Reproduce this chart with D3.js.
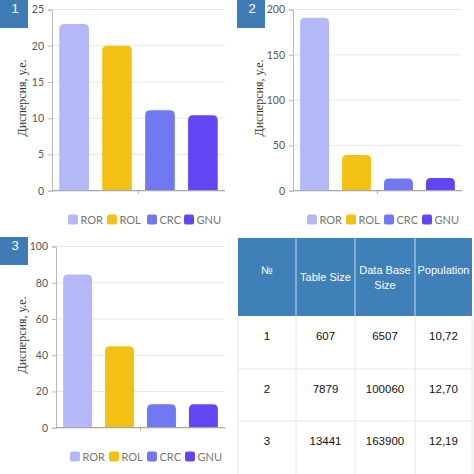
<!DOCTYPE html>
<html>
<head>
<meta charset="utf-8">
<script src="https://cdn.jsdelivr.net/npm/d3@7"></script>
<style>
html,body{margin:0;padding:0;background:#fff;}
svg{display:block;}
</style>
</head>
<body>
<svg id="chart" width="474" height="474"></svg>
<script>
// ---- data ----
const categories = ["ROR", "ROL", "CRC", "GNU"];
const colors = ["#b4b8f9", "#f3c114", "#7078f2", "#6246f4"];
const values1 = [23, 20, 11.1, 10.4];
const values2 = [191, 39.5, 13.5, 14];
const values3 = [84.5, 45, 13, 13];
const ticks1 = [0, 5, 10, 15, 20, 25];
const ticks2 = [0, 50, 100, 150, 200];
const ticks3 = [0, 20, 40, 60, 80, 100];
const yLabel = "Дисперсия, у.е.";
const tableHeaders = [["№"], ["Table Size"], ["Data Base", "Size"], ["Population"]];
const tableRows = [
  ["1", "607", "6507", "10,72"],
  ["2", "7879", "100060", "12,70"],
  ["3", "13441", "163900", "12,19"]
];

const svg = d3.select("#chart");

function topRoundedRect(x, y, w, h, r) {
  r = Math.min(r, w / 2, h);
  return `M${x},${y + h}V${y + r}Q${x},${y} ${x + r},${y}H${x + w - r}Q${x + w},${y} ${x + w},${y + r}V${y + h}Z`;
}

function drawPanel(cfg) {
  const g = svg.append("g").attr("transform", `translate(${cfg.ox},${cfg.oy})`);
  const y0 = 190.7, yT = 9.5, right = 225;
  const y = d3.scaleLinear().domain([0, d3.max(cfg.ticks)]).range([y0, yT]);
  const x = d3.scaleBand().domain(categories).range([cfg.axisX, right])
    .paddingInner(0.31).paddingOuter(0.17);

  // gridlines
  g.append("g").selectAll("line").data(cfg.ticks.filter(t => t > 0)).join("line")
    .attr("x1", cfg.axisX).attr("x2", right)
    .attr("y1", d => y(d)).attr("y2", d => y(d))
    .attr("stroke", "#e8e8e8").attr("stroke-width", 1);

  // y axis
  const ya = g.append("g").attr("transform", `translate(${cfg.axisX},0)`)
    .call(d3.axisLeft(y).tickValues(cfg.ticks).tickSize(4).tickPadding(4));
  ya.select(".domain").attr("stroke", "#b8b8b8");
  ya.selectAll(".tick line").attr("stroke", "#b8b8b8");
  ya.selectAll(".tick text").attr("fill", "#555").attr("font-family", "Lato, sans-serif").attr("font-size", 10.5);

  // bars
  g.append("g").selectAll("path").data(cfg.values).join("path")
    .attr("d", (d, i) => {
      const bx = x(categories[i]);
      return topRoundedRect(bx, y(d), x.bandwidth(), y0 - y(d), 5);
    })
    .attr("fill", (d, i) => colors[i]);

  // x axis baseline
  const xa = g.append("g");
  xa.append("line").attr("x1", cfg.axisX).attr("x2", right).attr("y1", y0).attr("y2", y0)
    .attr("stroke", "#a8a8a8").attr("stroke-width", 1.2);
  xa.append("line").attr("x1", (cfg.axisX + right) / 2).attr("x2", (cfg.axisX + right) / 2)
    .attr("y1", y0).attr("y2", y0 + 3).attr("stroke", "#a8a8a8");

  // y label
  g.append("text")
    .attr("transform", `translate(26,98) rotate(-90)`)
    .attr("text-anchor", "middle")
    .attr("font-family", "'Liberation Serif', 'Times New Roman', serif")
    .attr("font-size", 12).attr("fill", "#333")
    .text(yLabel);

  // legend
  const lg = g.append("g");
  const lx = cfg.legendX;
  categories.forEach((c, i) => {
    const gx = lx[i];
    lg.append("rect").attr("x", gx).attr("y", 214.5).attr("width", 10).attr("height", 10)
      .attr("rx", 2).attr("fill", colors[i]);
    lg.append("text").attr("x", gx + 12.5).attr("y", 223.5)
      .attr("font-family", "Lato, sans-serif").attr("font-size", 11).attr("fill", "#777")
      .text(c);
  });

  // badge
  g.append("rect").attr("x", 0).attr("y", 0).attr("width", 28).attr("height", 28).attr("fill", "#3f7cb6");
  g.append("text").attr("x", 15).attr("y", 12.5).attr("text-anchor", "middle")
    .attr("font-family", "'Liberation Sans', Arial, sans-serif").attr("font-size", 13)
    .attr("fill", "#fff").text(cfg.id);
}

drawPanel({id: 1, ox: 0, oy: 0, values: values1, ticks: ticks1, axisX: 52, legendX: [68, 107, 147, 184]});
drawPanel({id: 2, ox: 237, oy: 0, values: values2, ticks: ticks2, axisX: 56, legendX: [70, 109, 147, 185]});
drawPanel({id: 3, ox: 0, oy: 237, values: values3, ticks: ticks3, axisX: 56, legendX: [70, 109, 147, 185]});

// ---- table ----
const tg = svg.append("g");
const colX = [238, 296, 355, 415, 472];
const rowY = [238, 316, 369, 421, 474];
tg.append("rect").attr("x", colX[0]).attr("y", rowY[0]).attr("width", colX[4] - colX[0])
  .attr("height", rowY[1] - rowY[0]).attr("fill", "#4080b8");
// header column separators
tg.selectAll("line.hsep").data(colX.slice(1, 4)).join("line")
  .attr("x1", d => d).attr("x2", d => d).attr("y1", rowY[0]).attr("y2", rowY[1])
  .attr("stroke", "#c4dcf0").attr("stroke-width", 1);
// body separators
tg.selectAll("line.bsep").data(colX).join("line")
  .attr("x1", d => d).attr("x2", d => d).attr("y1", rowY[1]).attr("y2", 474)
  .attr("stroke", "#e4e4e4").attr("stroke-width", 1);
tg.selectAll("line.rsep").data(rowY.slice(2, 4)).join("line")
  .attr("x1", colX[0]).attr("x2", colX[4]).attr("y1", d => d).attr("y2", d => d)
  .attr("stroke", "#e4e4e4").attr("stroke-width", 1);

const headerY = [[274], [281], [274, 289], [274]];
tableHeaders.forEach((lines, i) => {
  const cx = (colX[i] + colX[i + 1]) / 2;
  lines.forEach((ln, j) => {
    tg.append("text").attr("x", cx).attr("y", headerY[i][j]).attr("text-anchor", "middle")
      .attr("font-family", "'Liberation Sans', Arial, sans-serif").attr("font-size", 11)
      .attr("fill", "#fff").text(ln);
  });
});
tableRows.forEach((row, r) => {
  const ty = rowY[r + 1] + 24;
  row.forEach((cell, i) => {
    const cx = (colX[i] + colX[i + 1]) / 2;
    tg.append("text").attr("x", cx).attr("y", ty).attr("text-anchor", "middle")
      .attr("font-family", "'Liberation Sans', Arial, sans-serif").attr("font-size", 11.5)
      .attr("fill", "#111").text(cell);
  });
});
</script>
</body>
</html>
